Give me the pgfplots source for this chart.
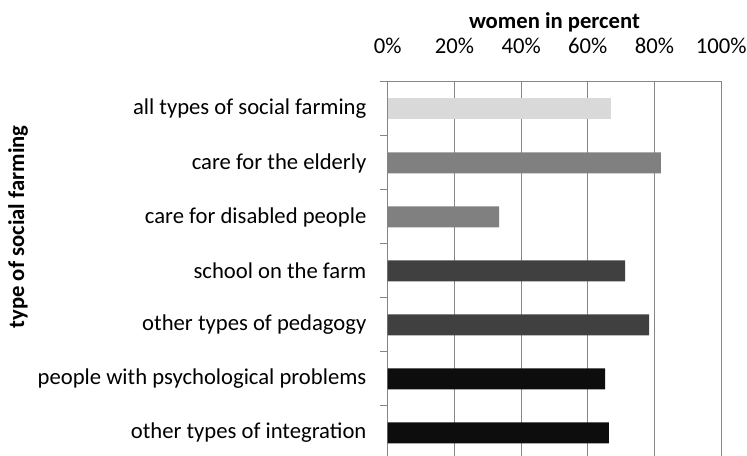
\documentclass[border=0pt]{standalone}
\usepackage{fontspec}
\setmainfont{Carlito}
\usepackage{pgfplots}
\pgfplotsset{compat=1.18}

\definecolor{barlight}{HTML}{D9D9D9}
\definecolor{barmid}{HTML}{808080}
\definecolor{bardark}{HTML}{404040}
\definecolor{barblack}{HTML}{0D0D0D}
\definecolor{gridgray}{HTML}{868686}

\newcommand{\chartfont}{\fontsize{17}{20}\selectfont}

\begin{document}
\begin{tikzpicture}
\begin{axis}[
  at={(0,0)}, anchor=south west,
  scale only axis,
  width=250.2pt, height=283.5pt,
  xbar, bar width=15.75pt,
  xmin=0, xmax=100,
  ymin=-0.5, ymax=6.5,
  xtick={0,20,...,100},
  xticklabel={\pgfmathprintnumber{\tick}\%},
  xticklabel pos=right,
  xtick style={draw=none},
  xticklabel style={font=\chartfont, anchor=base, yshift=15.5pt},
  /pgf/number format/assume math mode=true,
  ytick={-0.5,0.5,...,6.5},
  yticklabels={other types of integration, people with psychological problems, other types of pedagogy, school on the farm, care for disabled people, care for the elderly, all types of social farming},
  y tick label as interval,
  ytick pos=left,
  yticklabel style={font=\chartfont, anchor=east, inner sep=0pt, xshift=-10pt},
  tick align=outside,
  major tick length=5.8pt,
  ytick style={gridgray, line width=0.75pt},
  xmajorgrids,
  grid style={gridgray, line width=0.75pt},
  axis line style={gridgray, line width=0.75pt},
  clip=false,
]
\addplot[fill=barlight, draw=none, bar shift=0pt] coordinates {(66.8,6)};
\addplot[fill=barmid, draw=none, bar shift=0pt] coordinates {(81.9,5) (33.4,4)};
\addplot[fill=bardark, draw=none, bar shift=0pt] coordinates {(71.2,3) (78.4,2)};
\addplot[fill=barblack, draw=none, bar shift=0pt] coordinates {(65.2,1) (66.3,0)};
\end{axis}
\node[font=\chartfont\bfseries] at (125.1pt,328.5pt) {women in percent};
\node[font=\chartfont\bfseries, rotate=90] at (-277.3pt,174.75pt) {type of social farming};
\pgfresetboundingbox
\path[use as bounding box] (-290.8pt,3pt) rectangle (269.5pt,345pt);
\end{tikzpicture}
\end{document}
